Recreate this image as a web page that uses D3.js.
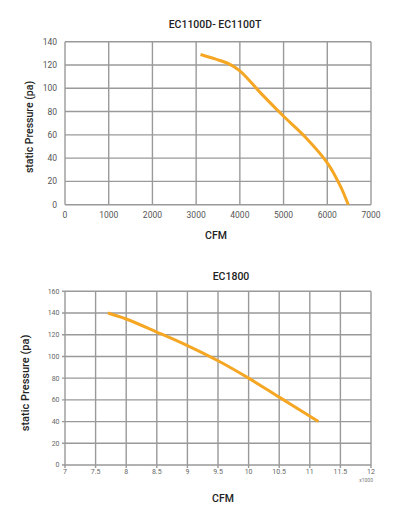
<!DOCTYPE html>
<html><head><meta charset="utf-8">
<script src="https://cdn.jsdelivr.net/npm/d3@7"></script>
<style>
html,body{margin:0;padding:0;background:#fff;}
svg{display:block;font-family:Roboto,"Liberation Sans",Arial,sans-serif;}
</style></head>
<body>
<svg id="c" width="410" height="523"></svg>
<script>
// Chart 1: EC1100D- EC1100T
const title1 = "EC1100D- EC1100T";
const cfm1 = [3100, 3450, 3750, 4000, 4500, 5000, 5500, 6000, 6300, 6480];
const pressure1 = [129, 125, 121, 115, 95, 76, 58, 36, 16, 0];
const xTicks1 = [0, 1000, 2000, 3000, 4000, 5000, 6000, 7000];
const yTicks1 = [0, 20, 40, 60, 80, 100, 120, 140];

// Chart 2: EC1800 (CFM x1000)
const title2 = "EC1800";
const cfm2 = [7.7, 8, 8.5, 9, 9.5, 10, 10.5, 11.14];
const pressure2 = [140, 134.5, 122.5, 110, 96, 80, 62.5, 40];
const xTicks2 = [7, 7.5, 8, 8.5, 9, 9.5, 10, 10.5, 11, 11.5, 12];
const yTicks2 = [0, 20, 40, 60, 80, 100, 120, 140, 160];

const svg = d3.select("#c");
const orange = "#F5A623";

function drawChart(o) {
  const g = svg.append("g");
  const x = d3.scaleLinear().domain(o.xDomain).range([o.left, o.right]);
  const y = d3.scaleLinear().domain(o.yDomain).range([o.bottom, o.top]);

  g.append("g").selectAll("line").data(o.yTicks).join("line")
    .attr("x1", o.left - o.tick).attr("x2", o.right)
    .attr("y1", d => y(d)).attr("y2", d => y(d))
    .attr("stroke", o.gridColor).attr("stroke-width", o.gridW);
  g.append("g").selectAll("line").data(o.xTicks).join("line")
    .attr("y1", o.top).attr("y2", o.bottom + o.tick)
    .attr("x1", d => x(d)).attr("x2", d => x(d))
    .attr("stroke", o.gridColor).attr("stroke-width", o.gridW);

  g.append("g").selectAll("text").data(o.yTicks).join("text")
    .attr("x", o.left - o.yLabGap).attr("y", d => y(d))
    .attr("dy", "0.35em").attr("text-anchor", "end")
    .attr("font-size", o.tickSize).attr("fill", o.tickColor)
    .text(d => d);
  g.append("g").selectAll("text").data(o.xTicks).join("text")
    .attr("x", d => x(d)).attr("y", o.bottom + o.xLabGap)
    .attr("text-anchor", "middle")
    .attr("font-size", o.tickSize).attr("fill", o.tickColor)
    .text(d => d);

  const pts = o.xs.map((v, i) => [v, o.ys[i]]);
  g.append("path").datum(pts)
    .attr("fill", "none").attr("stroke", orange)
    .attr("stroke-width", o.lineW).attr("stroke-linecap", "butt")
    .attr("d", d3.line().x(d => x(d[0])).y(d => y(d[1])).curve(d3.curveCatmullRom.alpha(0.5)));

  g.append("text").attr("x", o.titleX).attr("y", o.titleY)
    .attr("text-anchor", "middle").attr("font-size", o.titleSize)
    .attr("font-weight", 500).attr("fill", "#222").text(o.title);
  g.append("text").attr("x", o.cfmX).attr("y", o.cfmY)
    .attr("text-anchor", "middle").attr("font-size", o.labSize)
    .attr("font-weight", 500).attr("fill", "#222").text("CFM");
  g.append("text")
    .attr("transform", `translate(${o.ylabX},${o.ylabY}) rotate(-90)`)
    .attr("text-anchor", "middle").attr("font-size", o.ylabSize)
    .attr("font-weight", 500).attr("fill", "#222").text("static Pressure (pa)");
  if (o.unit) {
    g.append("text").attr("x", o.right + 2).attr("y", o.unitY)
      .attr("text-anchor", "end").attr("font-size", 5)
      .attr("fill", "#777").text(o.unit);
  }
}

drawChart({
  xDomain: [0, 7000], yDomain: [0, 140],
  left: 65, right: 371, top: 41.7, bottom: 204.7,
  xTicks: xTicks1, yTicks: yTicks1, xs: cfm1, ys: pressure1,
  tick: 0, gridColor: "#9a9a9a", gridW: 1.4,
  yLabGap: 8, xLabGap: 13, tickSize: 8.5, tickColor: "#555",
  lineW: 3,
  title: title1, titleX: 215, titleY: 28, titleSize: 10.5,
  cfmX: 216, cfmY: 239, labSize: 10.5,
  ylabX: 33, ylabY: 127, ylabSize: 10.5
});

drawChart({
  xDomain: [7, 12], yDomain: [0, 160],
  left: 65, right: 371, top: 291.3, bottom: 465,
  xTicks: xTicks2, yTicks: yTicks2, xs: cfm2, ys: pressure2,
  tick: 3, gridColor: "#999", gridW: 1.4,
  yLabGap: 5.5, xLabGap: 9, tickSize: 7, tickColor: "#666",
  lineW: 3,
  title: title2, titleX: 231, titleY: 279.5, titleSize: 10.5,
  cfmX: 223, cfmY: 502, labSize: 10.5,
  ylabX: 29, ylabY: 383, ylabSize: 11,
  unit: "x1000", unitY: 482
});
</script>
</body></html>
